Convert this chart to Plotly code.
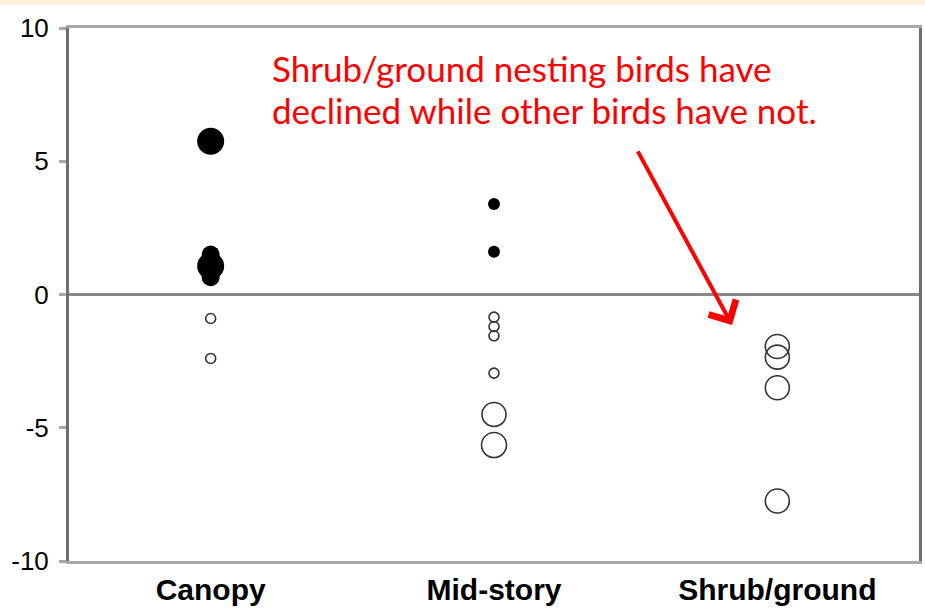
import plotly.graph_objects as go

categories = ["Canopy", "Mid-story", "Shrub/ground"]

# filled (increasing) points: category, value, relative size
filled_cat = ["Canopy", "Canopy", "Canopy", "Canopy", "Mid-story", "Mid-story"]
filled_val = [5.75, 1.07, 1.5, 0.65, 3.4, 1.6]
filled_size = [27, 27, 18, 18, 12, 12]

# open (declining) points
open_cat = ["Canopy", "Canopy",
            "Mid-story", "Mid-story", "Mid-story", "Mid-story", "Mid-story", "Mid-story",
            "Shrub/ground", "Shrub/ground", "Shrub/ground", "Shrub/ground"]
open_val = [-0.9, -2.4,
            -0.85, -1.2, -1.55, -2.95, -4.5, -5.65,
            -1.95, -2.35, -3.5, -7.75]
open_size = [10, 10,
             10, 10, 10, 10, 24, 25,
             24, 24, 24, 24]

y_ticks = [-10, -5, 0, 5, 10]
note_lines = ["Shrub/ground nesting birds have", "declined while other birds have not."]

fig = go.Figure()
fig.add_trace(go.Scatter(
    x=filled_cat, y=filled_val, mode="markers",
    marker=dict(symbol="circle", size=filled_size, color="black", opacity=1,
                line=dict(width=0)),
    showlegend=False, hoverinfo="skip"))
fig.add_trace(go.Scatter(
    x=open_cat, y=open_val, mode="markers",
    marker=dict(symbol="circle-open", size=open_size, color="#333333", opacity=1,
                line=dict(width=1.6)),
    showlegend=False, hoverinfo="skip"))

PH = 533.0
annotations = []
for i, line in enumerate(note_lines):
    top_px = 45 + 42 * i
    annotations.append(dict(
        text=line, xref="paper", yref="paper", x=(270 - 69) / 850, y=1 - (top_px - 28) / PH,
        xanchor="left", yanchor="top", align="left", showarrow=False,
        font=dict(family="Lato", size=35, color="red")))
annotations.append(dict(
    text="", x=1.84, y=-1.14, xref="x", yref="y",
    showarrow=True, axref="pixel", ayref="pixel", ax=-95, ay=-175,
    arrowhead=4, arrowsize=1.5, arrowwidth=4, arrowcolor="red", standoff=0))

fig.update_layout(
    width=925, height=608,
    margin=dict(l=69, r=6, t=28, b=47, pad=0),
    paper_bgcolor="white", plot_bgcolor="white",
    xaxis=dict(
        type="category", categoryorder="array", categoryarray=categories,
        range=[-0.5, 2.5], showgrid=False, zeroline=False, automargin=False,
        showline=True, linecolor="#a8a8a8", linewidth=3, mirror=True,
        ticks="", ticklabelstandoff=0,
        tickfont=dict(family="Liberation Sans, Arial", size=30, color="black", weight="bold"),
    ),
    yaxis=dict(
        range=[-10, 10], tickvals=y_ticks, ticktext=[str(v) for v in y_ticks],
        showgrid=False, zeroline=True, zerolinecolor="#888888", zerolinewidth=3,
        showline=True, linecolor="#6e6e6e", linewidth=3, mirror=True, automargin=False,
        ticks="outside", ticklen=7, tickwidth=3, tickcolor="#a8a8a8",
        ticklabelstandoff=5,
        tickfont=dict(family="Liberation Sans, Arial", size=26, color="black"),
    ),
    annotations=annotations,
    shapes=[
        dict(type="rect", xref="paper", yref="paper", x0=-0.1, x1=1.1,
             y0=1 + 23 / PH, y1=1 + 40 / PH, fillcolor="#fdf0d8", line=dict(width=0),
             layer="below"),
    ],
)

fig.write_html("out.html", config={"displayModeBar": False},
               post_script="document.body.style.margin='0';document.body.style.overflow='hidden';")
